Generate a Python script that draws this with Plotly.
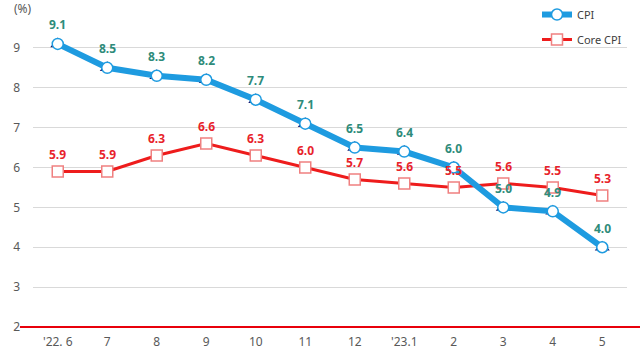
import plotly.graph_objects as go

months = ["'22. 6", "7", "8", "9", "10", "11", "12", "'23.1", "2", "3", "4", "5"]
cpi = [9.1, 8.5, 8.3, 8.2, 7.7, 7.1, 6.5, 6.4, 6.0, 5.0, 4.9, 4.0]
core = [5.9, 5.9, 6.3, 6.6, 6.3, 6.0, 5.7, 5.6, 5.5, 5.6, 5.5, 5.3]
yticks = [2, 3, 4, 5, 6, 7, 8, 9]

FONT = "Noto Sans"
fig = go.Figure()

fig.add_trace(go.Scatter(
    x=months, y=core, mode="lines+markers", name="Core CPI",
    legendgroup="b", legendrank=2,
    line=dict(color="#ee1c1c", width=3),
    marker=dict(symbol="square", size=11, color="white",
                line=dict(color="#f08080", width=1.5)),
))
fig.add_trace(go.Scatter(
    x=months, y=cpi, mode="markers", showlegend=False, hoverinfo="skip",
    marker=dict(symbol="triangle-up", size=13, color="#1a1a6e", line=dict(width=0)),
))
fig.add_trace(go.Scatter(
    x=months, y=cpi, mode="lines+markers", name="CPI",
    legendgroup="a", legendrank=1,
    line=dict(color="#1e9be0", width=6),
    marker=dict(symbol="circle", size=11, color="white",
                line=dict(color="#1e9be0", width=1.5)),
))

for i, v in enumerate(cpi):
    fig.add_annotation(x=i, y=v, text=f"<b>{v:.1f}</b>", showarrow=False,
                       yshift=19, font=dict(family=FONT, size=12, color="#2e8b7a"))
for i, v in enumerate(core):
    fig.add_annotation(x=i, y=v, text=f"<b>{v:.1f}</b>", showarrow=False,
                       yshift=17, font=dict(family=FONT, size=12, color="#e8232b"))

fig.add_annotation(x=-0.035, y=1.0, xref="paper", yref="paper", text="(%)",
                   showarrow=False, xanchor="left", yanchor="middle",
                   font=dict(family=FONT, size=12, color="#595959"))

fig.add_shape(type="line", xref="paper", yref="paper", x0=-0.022, x1=1.03, y0=0, y1=0,
              line=dict(color="#e8000b", width=2), layer="above")

fig.update_layout(
    width=640, height=354,
    margin=dict(l=33, r=13, t=8, b=27, autoexpand=False),
    paper_bgcolor="white", plot_bgcolor="white",
    font=dict(family=FONT, size=12, color="#595959"),
    showlegend=True,
    legend=dict(x=1.0, xanchor="right", y=1.025, yanchor="top",
                bgcolor="rgba(0,0,0,0)", font=dict(family=FONT, size=11, color="#404040"),
                tracegroupgap=6, itemwidth=30),
    xaxis=dict(type="category", range=[-0.5, 11.5], showgrid=False, zeroline=False,
               showline=False, ticks="", ticklabelstandoff=6,
               tickfont=dict(size=12, color="#595959")),
    yaxis=dict(range=[2, 10], tickvals=yticks, showgrid=True, gridcolor="#d9d9d9",
               gridwidth=1, zeroline=False, showline=False, ticks="",
               ticklabelstandoff=12, tickfont=dict(size=12, color="#595959")),
)

fig.write_html("out.html")
